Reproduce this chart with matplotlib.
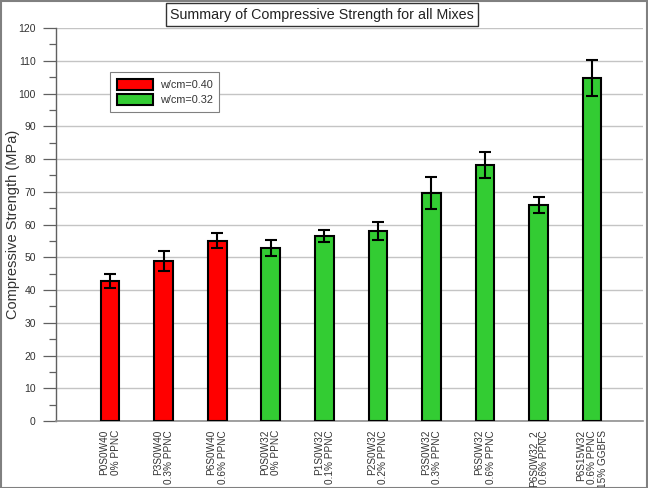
import matplotlib
matplotlib.use("Agg")
import matplotlib.pyplot as plt
from matplotlib.ticker import MultipleLocator
from matplotlib.patches import Patch, Rectangle

plt.rcParams['font.family'] = ['Liberation Sans', 'DejaVu Sans']

labels = ["P0S0W40\n0% PPNC", "P3S0W40\n0.3% PPNC", "P6S0W40\n0.6% PPNC",
          "P0S0W32\n0% PPNC", "P1S0W32\n0.1% PPNC", "P2S0W32\n0.2% PPNC",
          "P3S0W32\n0.3% PPNC", "P6S0W32\n0.6% PPNC", "P6S0W32_2\n0.6% PPNC",
          "P6S15W32\n0.6% PPNC\n15% GGBFS"]
strength = [42.7, 48.9, 55.1, 52.8, 56.5, 58.0, 69.5, 78.1, 65.9, 104.7]
errors = [2.1, 3.1, 2.2, 2.4, 1.7, 2.7, 4.9, 3.9, 2.4, 5.5]
group = ["w/cm=0.40"] * 3 + ["w/cm=0.32"] * 7
colors = {"w/cm=0.40": "#FF0000", "w/cm=0.32": "#33CC33"}

fig = plt.figure(figsize=(6.48, 4.88), dpi=100)
ax = fig.add_axes([56/648, 1-421/488, (643-56)/648, (421-28)/488])

x = list(range(len(labels)))
ax.bar(x, strength, width=0.35, color=[colors[g] for g in group],
       edgecolor="black", linewidth=1.5, zorder=3)
ax.errorbar(x, strength, yerr=errors, fmt="none", ecolor="black",
            elinewidth=1.5, capsize=4.5, capthick=1.5, zorder=4)

ax.set_xlim(-1.01, 9.95)
ax.set_ylim(0, 120)
ax.yaxis.set_major_locator(MultipleLocator(10))
ax.yaxis.set_minor_locator(MultipleLocator(5))
ax.grid(axis="y", which="major", color="#c4c4c4", linewidth=1.0, zorder=0)
ax.set_axisbelow(True)

for s in ["top", "right"]:
    ax.spines[s].set_visible(False)
ax.spines["left"].set_color("#606060")
ax.spines["bottom"].set_color("#909090")
ax.spines["left"].set_linewidth(1.0)
ax.spines["bottom"].set_linewidth(1.2)

ax.tick_params(axis="y", which="major", direction="out", length=9.5, width=0.9,
               color="#606060", labelsize=7.5, labelcolor="#333333", pad=5)
ax.tick_params(axis="y", which="minor", direction="out", length=5, width=0.9,
               color="#606060")
ax.set_xticks(x)
ax.set_xticklabels(labels, rotation=90, fontsize=7.2, color="#333333",
                   va="top", ha="center", multialignment="right",
                   linespacing=1.15)
ax.tick_params(axis="x", length=0, pad=6.5)

ax.set_ylabel("Compressive Strength (MPa)", fontsize=10.5, color="#333333")
ax.yaxis.set_label_coords((20-56)/587, 0.5)

handles = [Patch(facecolor=colors[g], edgecolor="black", linewidth=1.5, label=g)
           for g in ["w/cm=0.40", "w/cm=0.32"]]
leg = ax.legend(handles=handles, loc="upper left",
                bbox_to_anchor=((110-56)/587, 1-(72-28)/393),
                borderaxespad=0,
                fontsize=7.8, frameon=True, fancybox=False, framealpha=1,
                edgecolor="#808080", handlelength=3.4, handleheight=1.25,
                borderpad=0.6, labelspacing=0.35, handletextpad=0.6)
leg.get_frame().set_linewidth(0.8)
for t in leg.get_texts():
    t.set_color("#333333")

fig.text(322/648, 1-14.5/488, "Summary of Compressive Strength for all Mixes",
         ha="center", va="center", fontsize=10.3, color="#222222",
         bbox=dict(boxstyle="square,pad=0.3", facecolor="white",
                   edgecolor="#333333", linewidth=1.0))

fig.patches.append(Rectangle((0.001, 0.001), 0.997, 0.997, transform=fig.transFigure,
                             fill=False, edgecolor="#808080", linewidth=1.5))

fig.savefig("out.png", dpi=100)
